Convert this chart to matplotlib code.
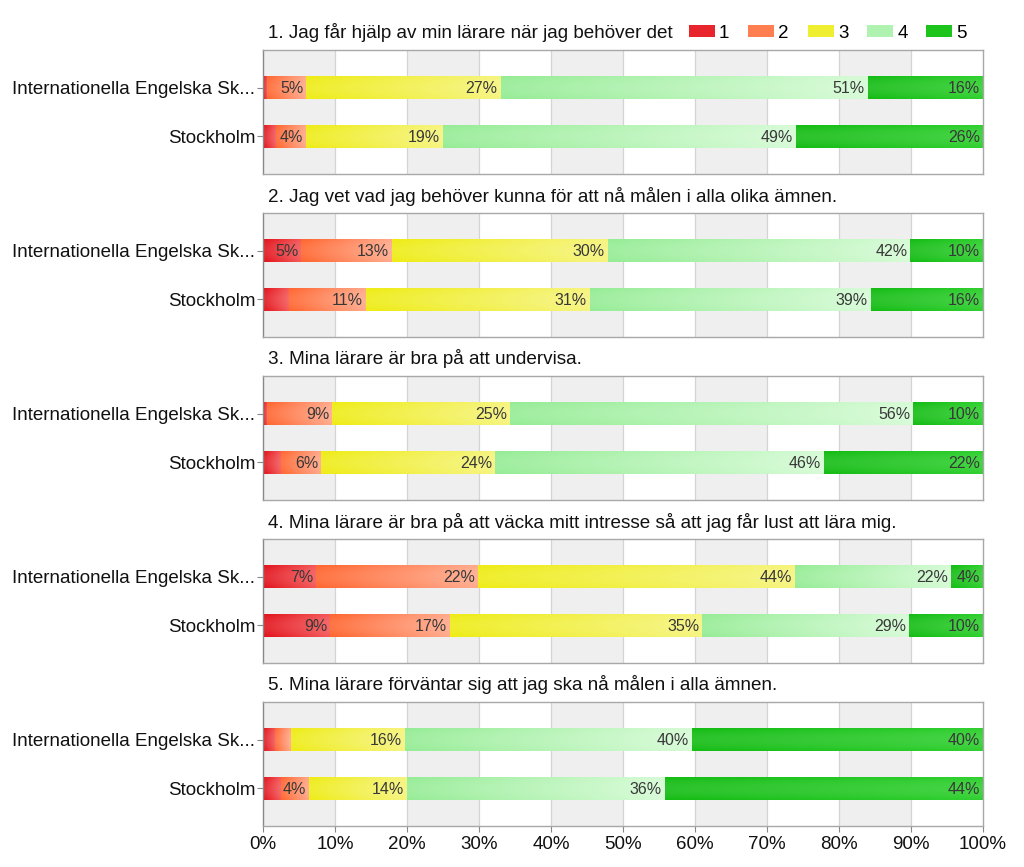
import numpy as np
import matplotlib
matplotlib.use("Agg")
import matplotlib.pyplot as plt
from matplotlib.colors import to_rgb
from matplotlib.patches import Patch

plt.rcParams['font.family'] = ['Liberation Sans', 'DejaVu Sans']

groups = ["Internationella Engelska Sk...", "Stockholm"]
questions = [
    "1. Jag får hjälp av min lärare när jag behöver det",
    "2. Jag vet vad jag behöver kunna för att nå målen i alla olika ämnen.",
    "3. Mina lärare är bra på att undervisa.",
    "4. Mina lärare är bra på att väcka mitt intresse så att jag får lust att lära mig.",
    "5. Mina lärare förväntar sig att jag ska nå målen i alla ämnen.",
]
levels = ["1", "2", "3", "4", "5"]

# percent per answer level (1..5) for [IES, Stockholm]
q1 = [[0.6, 5.4, 27.0, 51.0, 16.0], [1.8, 4.2, 19.0, 49.0, 26.0]]
q2 = [[5.3, 12.6, 30.0, 42.0, 10.1], [3.6, 10.7, 31.1, 39.0, 15.6]]
q3 = [[0.6, 9.0, 24.7, 56.0, 9.7], [2.5, 5.6, 24.1, 45.7, 22.1]]
q4 = [[7.4, 22.4, 44.1, 21.7, 4.4], [9.3, 16.7, 35.0, 28.7, 10.3]]
q5 = [[1.7, 2.2, 15.8, 39.9, 40.4], [2.5, 3.9, 13.6, 35.8, 44.2]]
data = [q1, q2, q3, q4, q5]

col_left = ["#e2121c", "#ff6630", "#eeec16", "#96ec96", "#14bc14"]
col_right = ["#f45a5a", "#ffaa8c", "#f6f47e", "#d6fbd6", "#30d030"]
legend_cols = ["#e8242c", "#ff7f50", "#f0ee30", "#b0f2b0", "#1cc41c"]

W, H = 1024, 867
fig = plt.figure(figsize=(W / 100, H / 100), dpi=100)

left_px, right_px = 263, 983
tops = [50, 213, 376, 539, 702]
hpx = 124
bar_h = 0.47


def grad_img(c0, c1, n=64, m=16):
    a = np.array(to_rgb(c0))
    b = np.array(to_rgb(c1))
    t = np.linspace(0, 1, n)[None, :, None]
    img = a[None, None, :] * (1 - t) + b[None, None, :] * t
    img = np.repeat(img, m, axis=0)
    v = np.linspace(-1, 1, m)[:, None, None]
    sheen = 0.10 * (1 - v ** 2)
    img = np.clip(img + sheen * (1 - img), 0, 1)
    return img


axes = []
for qi, (q, vals) in enumerate(zip(questions, data)):
    top = tops[qi]
    ax = fig.add_axes([left_px / W, 1 - (top + hpx) / H, (right_px - left_px) / W, hpx / H])
    axes.append(ax)
    for x0 in range(0, 100, 20):
        ax.axvspan(x0, x0 + 10, color="#efefef", zorder=0, lw=0)
    for x in range(10, 100, 10):
        ax.axvline(x, color="#d4d4d4", lw=0.9, zorder=0.5)
    for gi, row in enumerate(vals):
        cum = 0.0
        for li, v in enumerate(row):
            bars = ax.barh(gi, v, left=cum, height=bar_h, color=legend_cols[li], lw=0, zorder=2)
            patch = bars.patches[0]
            im = ax.imshow(grad_img(col_left[li], col_right[li]), extent=(cum, cum + v, gi + bar_h / 2, gi - bar_h / 2),
                           aspect='auto', zorder=2.1, interpolation='bilinear')
            im.set_clip_path(patch)
            if v >= 3.8:
                ax.text(cum + v - 0.4, gi + 0.02, f"{round(v):d}%", ha='right', va='center',
                        fontsize=11.5, color="#383838", zorder=3)
            cum += v
    ax.set_xlim(0, 100)
    ax.set_ylim(1.78, -0.78)
    ax.set_yticks([0, 1])
    ax.set_yticklabels(groups, fontsize=13.5, color="#111111")
    ax.tick_params(axis='y', length=4, color="#888888", pad=1.5)
    for s in ax.spines.values():
        s.set_color("#a8a8a8")
        s.set_linewidth(1.0)
    ax.spines['left'].set_color("#888888")
    ax.text(0.007, 1.0 + 17 / hpx, q, transform=ax.transAxes, ha='left', va='center',
            fontsize=13.6, color="#111111")
    if qi < 4:
        ax.set_xticks([])
    else:
        ax.set_xticks(np.arange(0, 101, 10))
        ax.set_xticklabels([f"{x}%" for x in range(0, 101, 10)], fontsize=13.5, color="#111111")
        ax.tick_params(axis='x', length=4, color="#888888", pad=3)

handles = [Patch(facecolor=c, edgecolor='none') for c in legend_cols]
axes[0].legend(handles, levels, ncol=5, loc='center right',
               bbox_to_anchor=((967 - left_px) / (right_px - left_px), 1.0 + 17 / hpx),
               frameon=False, fontsize=13.5, handlelength=1.39, handleheight=0.64, handletextpad=0.22,
               columnspacing=1.0, borderaxespad=0, borderpad=0)

fig.savefig("out.png", dpi=100)
